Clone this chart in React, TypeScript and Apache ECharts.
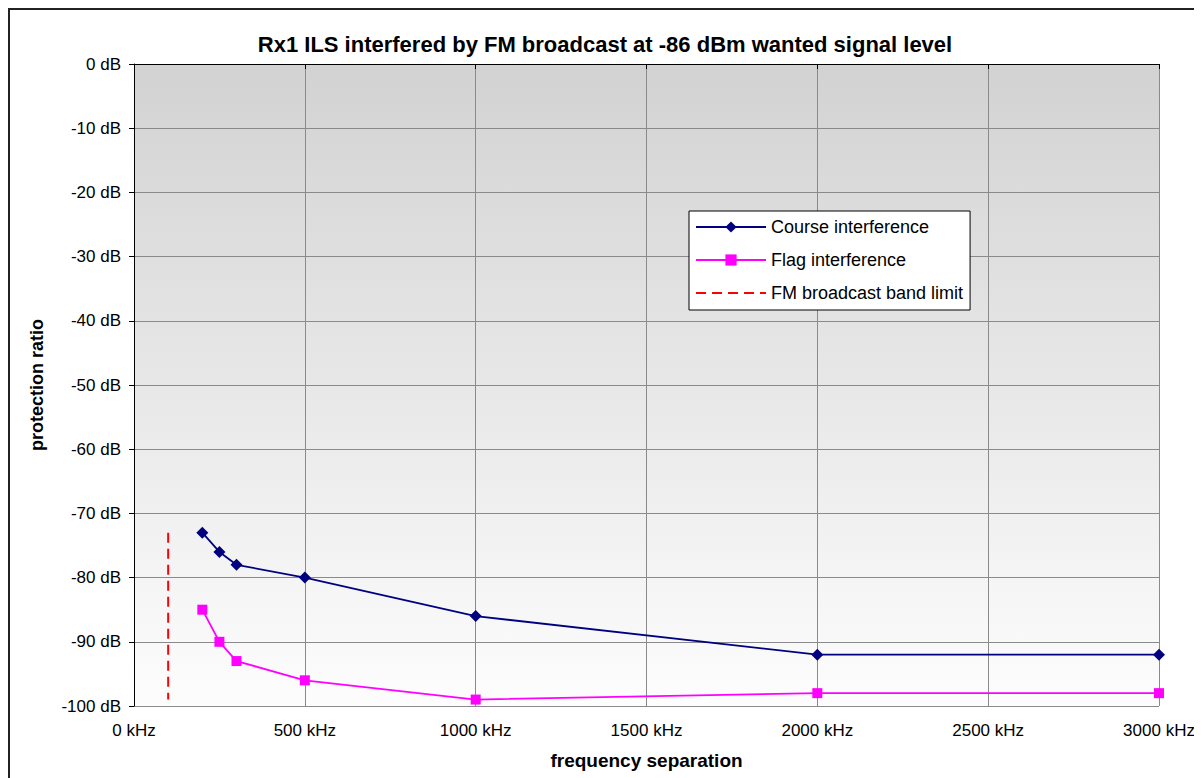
import React, { useEffect, useRef } from "react";
import * as echarts from "echarts";

const titleText = "Rx1 ILS interfered by FM broadcast at -86 dBm wanted signal level";
const freqs = [200, 250, 300, 500, 1000, 2000, 3000];
const courseValues = [-73, -76, -78, -80, -86, -92, -92];
const flagValues = [-85, -90, -93, -96, -99, -98, -98];
const bandLimitFreq = [100, 100];
const bandLimitValues = [-73, -99];
const seriesNames = ["Course interference", "Flag interference", "FM broadcast band limit"];

const FONT = 'Arial, "Liberation Sans", sans-serif';

export default function App() {
  const ref = useRef<HTMLDivElement>(null);
  useEffect(() => {
    document.body.style.overflow = "hidden";
    const chart = echarts.init(ref.current!, undefined, { renderer: "svg" });
    chart.setOption({
      animation: false,
      textStyle: { fontFamily: FONT },
      title: {
        text: titleText,
        left: "center",
        top: 20,
        textStyle: { fontFamily: FONT, fontSize: 22, fontWeight: "bold", color: "#000" },
      },
      graphic: [
        {
          type: "rect",
          shape: { x: 1, y: 1, width: 1188, height: 800 },
          style: { fill: "none", stroke: "#222", lineWidth: 2 },
          silent: true,
          z: 100,
        },
      ],
      legend: {
        orient: "vertical",
        left: 681,
        top: 203,
        backgroundColor: "#fff",
        borderColor: "#000",
        borderWidth: 1,
        padding: [7, 7, 8, 6],
        itemWidth: 70,
        itemHeight: 14,
        itemGap: 15,
        textStyle: { fontFamily: FONT, fontSize: 18, color: "#000" },
        data: [
          { name: seriesNames[0] },
          { name: seriesNames[1] },
          { name: seriesNames[2], itemStyle: { opacity: 0 } },
        ],
      },
      grid: {
        left: 126,
        top: 56,
        width: 1025,
        height: 642,
        show: true,
        borderWidth: 0,
        backgroundColor: new echarts.graphic.LinearGradient(0, 0, 0, 1, [
          { offset: 0, color: "#d2d2d2" },
          { offset: 1, color: "#fdfdfd" },
        ]),
      },
      xAxis: {
        type: "value",
        min: 0,
        max: 3000,
        interval: 500,
        name: "frequency separation",
        nameLocation: "middle",
        nameGap: 45,
        nameTextStyle: { fontFamily: FONT, fontSize: 19, fontWeight: "bold", color: "#000" },
        axisLine: { show: true, lineStyle: { color: "#000", width: 1 } },
        axisTick: { show: true, length: 5, lineStyle: { color: "#000" } },
        axisLabel: {
          formatter: (v: number) => `${v} kHz`,
          fontFamily: FONT,
          fontSize: 17,
          color: "#000",
          margin: 16,
        },
        splitLine: { show: true, lineStyle: { color: "#8a8a8a", width: 1 } },
      },
      yAxis: {
        type: "value",
        min: -100,
        max: 0,
        interval: 10,
        name: "protection ratio",
        nameLocation: "middle",
        nameRotate: 90,
        nameGap: 88,
        nameTextStyle: { fontFamily: FONT, fontSize: 18, fontWeight: "bold", color: "#000" },
        axisLine: { show: true, onZero: false, lineStyle: { color: "#000", width: 1 } },
        axisTick: { show: true, length: 5, lineStyle: { color: "#000" } },
        axisLabel: {
          formatter: (v: number) => `${v} dB`,
          fontFamily: FONT,
          fontSize: 17,
          color: "#000",
          margin: 13,
        },
        splitLine: { show: true, lineStyle: { color: "#8a8a8a", width: 1 } },
      },
      series: [
        {
          name: seriesNames[0],
          type: "line",
          data: freqs.map((f, i) => [f, courseValues[i]]),
          symbol: "diamond",
          symbolSize: 12,
          color: "#000080",
          lineStyle: { color: "#000080", width: 1.8 },
          itemStyle: { color: "#000080" },
        },
        {
          name: seriesNames[1],
          type: "line",
          data: freqs.map((f, i) => [f, flagValues[i]]),
          symbol: "rect",
          symbolSize: 10,
          color: "#ff00ff",
          lineStyle: { color: "#ff00ff", width: 1.8 },
          itemStyle: { color: "#ff00ff" },
        },
        {
          name: seriesNames[2],
          type: "line",
          data: bandLimitFreq.map((f, i) => [f, bandLimitValues[i]]),
          symbol: "none",
          color: "#ff0000",
          lineStyle: { color: "#ff0000", width: 2, type: [10, 6] },
        },
      ],
    });
    return () => chart.dispose();
  }, []);
  return <div ref={ref} style={{ width: 1194, height: 770 }} />;
}
